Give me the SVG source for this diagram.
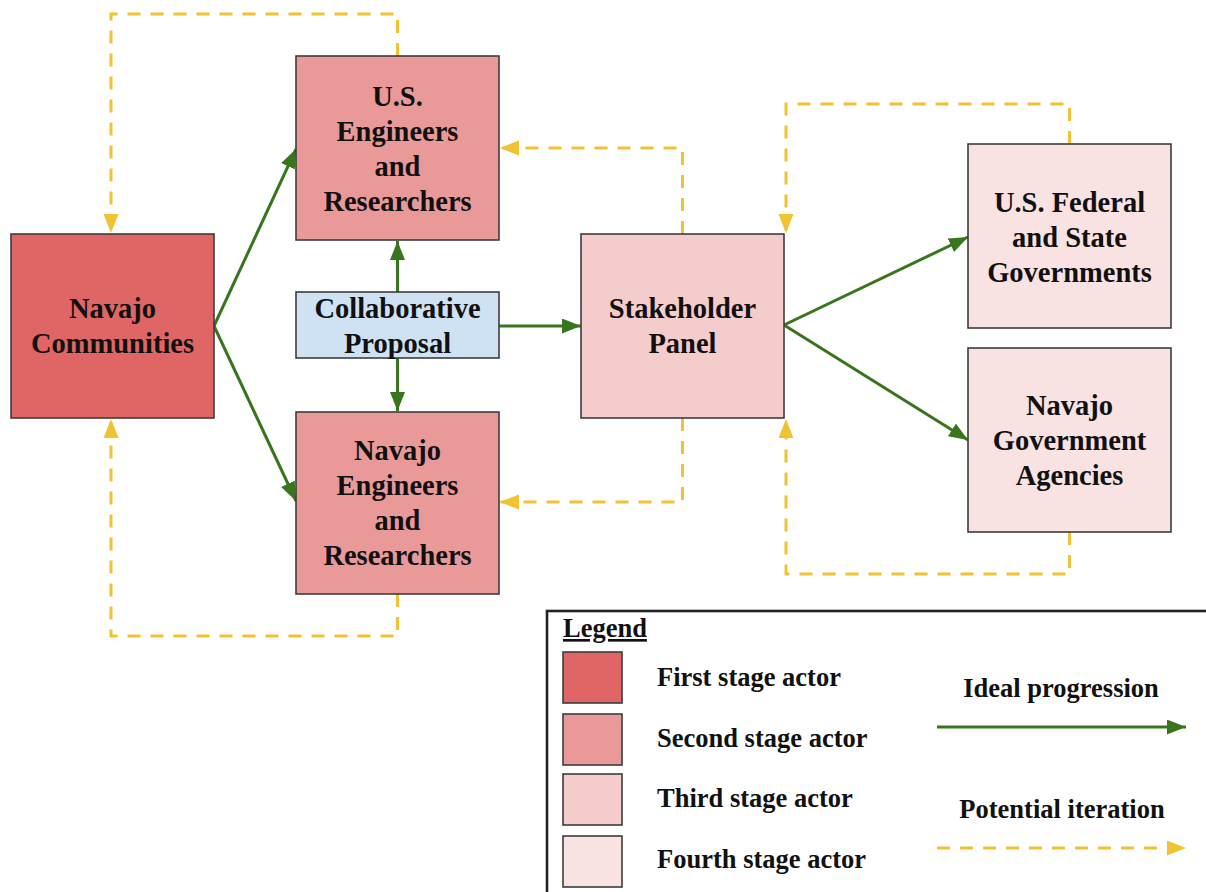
<svg xmlns="http://www.w3.org/2000/svg" width="1206" height="892" viewBox="0 0 1206 892">
<style>
.box{stroke:#3d3d3d;stroke-width:1.6}
.s1{fill:#e06666}.s2{fill:#ea9999}.s3{fill:#f4cccc}.s4{fill:#f8e2e2}.blue{fill:#cfe2f3}
text{font-family:"Liberation Serif","Times New Roman",serif;font-weight:bold;fill:#111}
.n{font-size:28.5px;text-anchor:middle}
.lg{font-size:26.5px}
.lc{font-size:26.5px;text-anchor:middle}
.g{stroke:#38761d;stroke-width:3;fill:none}
.y{stroke:#f1c232;stroke-width:3;fill:none;stroke-dasharray:13 10}
</style>
<defs>
<marker id="ag" markerUnits="userSpaceOnUse" markerWidth="20" markerHeight="16" refX="19" refY="7.5" orient="auto"><path d="M0,0 L19,7.5 L0,15 z" fill="#38761d"/></marker>
<marker id="ay" markerUnits="userSpaceOnUse" markerWidth="20" markerHeight="16" refX="19" refY="7.5" orient="auto"><path d="M0,0 L19,7.5 L0,15 z" fill="#f1c232"/></marker>
</defs>
<rect width="1206" height="892" fill="#fff"/>
<g id="connectors">
<line class="g" x1="214" y1="326" x2="296" y2="149" marker-end="url(#ag)"/>
<line class="g" x1="214" y1="326" x2="296" y2="501" marker-end="url(#ag)"/>
<line class="g" x1="397.5" y1="292" x2="397.5" y2="241" marker-end="url(#ag)"/>
<line class="g" x1="397.5" y1="358" x2="397.5" y2="411" marker-end="url(#ag)"/>
<line class="g" x1="499" y1="326" x2="581" y2="326" marker-end="url(#ag)"/>
<line class="g" x1="784" y1="325" x2="968" y2="237" marker-end="url(#ag)"/>
<line class="g" x1="784" y1="325" x2="968" y2="440" marker-end="url(#ag)"/>
<polyline class="y" points="397.5,56 397.5,14 111,14 111,233" marker-end="url(#ay)"/>
<polyline class="y" points="397.5,594 397.5,636 111,636 111,419" marker-end="url(#ay)"/>
<polyline class="y" points="682.5,234 682.5,148 500,148" marker-end="url(#ay)"/>
<polyline class="y" points="682.5,418 682.5,502 500,502" marker-end="url(#ay)"/>
<polyline class="y" points="1069.5,144 1069.5,104 786,104 786,233" marker-end="url(#ay)"/>
<polyline class="y" points="1069.5,532 1069.5,574 786,574 786,419" marker-end="url(#ay)"/>
</g>
<g id="navajo-communities">
<rect class="box s1" x="11" y="234" width="203" height="184"/>
<text class="n" x="112.5" y="318">Navajo</text>
<text class="n" x="112.5" y="353">Communities</text>
</g>
<g id="us-engineers">
<rect class="box s2" x="296" y="56" width="203" height="184"/>
<text class="n" x="397.5" y="106">U.S.</text>
<text class="n" x="397.5" y="141">Engineers</text>
<text class="n" x="397.5" y="176">and</text>
<text class="n" x="397.5" y="211">Researchers</text>
</g>
<g id="navajo-engineers">
<rect class="box s2" x="296" y="412" width="203" height="182"/>
<text class="n" x="397.5" y="460">Navajo</text>
<text class="n" x="397.5" y="495">Engineers</text>
<text class="n" x="397.5" y="530">and</text>
<text class="n" x="397.5" y="565">Researchers</text>
</g>
<g id="collaborative-proposal">
<rect class="box blue" x="296" y="292" width="203" height="66"/>
<text class="n" x="397.5" y="318">Collaborative</text>
<text class="n" x="397.5" y="353">Proposal</text>
</g>
<g id="stakeholder-panel">
<rect class="box s3" x="581" y="234" width="203" height="184"/>
<text class="n" x="682.5" y="318">Stakeholder</text>
<text class="n" x="682.5" y="353">Panel</text>
</g>
<g id="us-federal">
<rect class="box s4" x="968" y="144" width="203" height="184"/>
<text class="n" x="1069.5" y="212">U.S. Federal</text>
<text class="n" x="1069.5" y="247">and State</text>
<text class="n" x="1069.5" y="282">Governments</text>
</g>
<g id="navajo-government">
<rect class="box s4" x="968" y="348" width="203" height="184"/>
<text class="n" x="1069.5" y="415">Navajo</text>
<text class="n" x="1069.5" y="450">Government</text>
<text class="n" x="1069.5" y="485">Agencies</text>
</g>
<g id="legend">
<rect x="547" y="611" width="700" height="300" fill="#fff" stroke="#222" stroke-width="2.6"/>
<text class="lg" x="563" y="637" text-decoration="underline">Legend</text>
<rect class="box s1" x="563" y="652" width="59" height="51"/>
<rect class="box s2" x="563" y="714" width="59" height="51"/>
<rect class="box s3" x="563" y="774" width="59" height="51"/>
<rect class="box s4" x="563" y="836" width="59" height="51"/>
<text class="lg" x="657" y="686">First stage actor</text>
<text class="lg" x="657" y="747">Second stage actor</text>
<text class="lg" x="657" y="807">Third stage actor</text>
<text class="lg" x="657" y="868">Fourth stage actor</text>
<text class="lc" x="1061" y="697">Ideal progression</text>
<text class="lc" x="1062" y="818">Potential iteration</text>
<line class="g" x1="937" y1="727" x2="1186" y2="727" marker-end="url(#ag)"/>
<line class="y" x1="937" y1="848" x2="1186" y2="848" marker-end="url(#ay)"/>
</g>
</svg>
